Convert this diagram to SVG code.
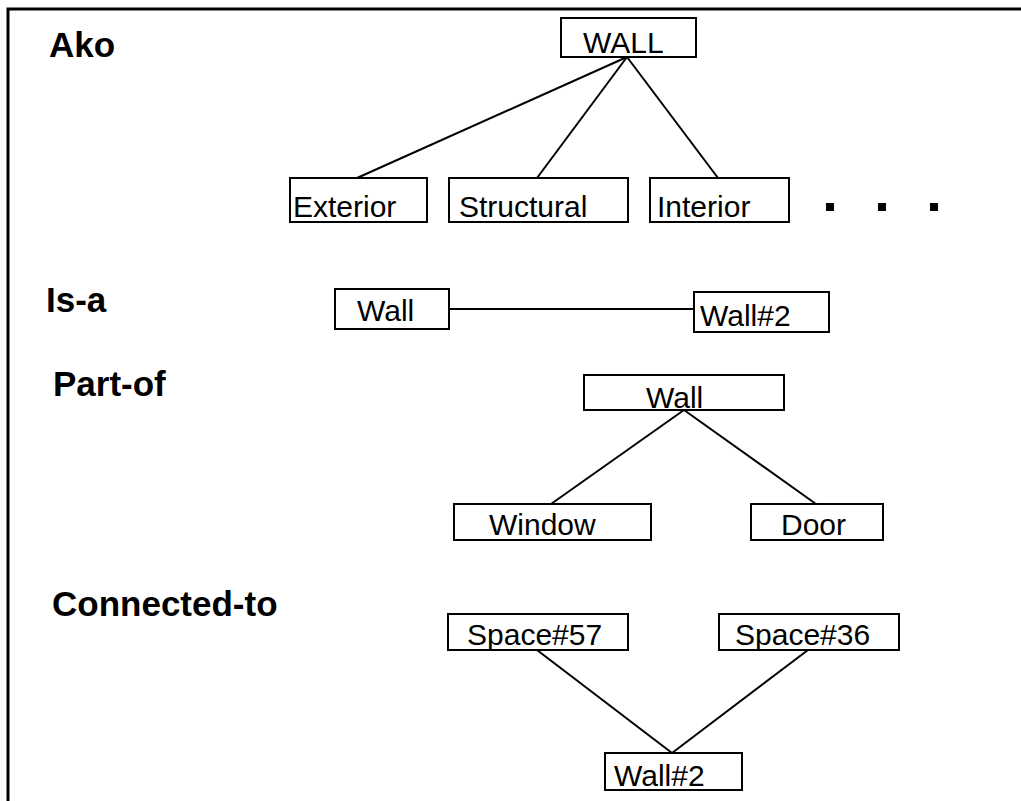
<svg xmlns="http://www.w3.org/2000/svg" width="1021" height="801" viewBox="0 0 1021 801">
<style>
.box{fill:#fff;stroke:#000;stroke-width:2}
.t{font-family:"Liberation Sans",Arial,sans-serif;font-size:30px;fill:#000}
.h{font-family:"Liberation Sans",Arial,sans-serif;font-size:35px;font-weight:bold;fill:#000}
.c{stroke:#000;stroke-width:2;fill:none}
</style>
<rect width="1021" height="801" fill="#fff"/>
<path d="M8,801 V9 H1021" fill="none" stroke="#000" stroke-width="3"/>
<text class="h" x="49" y="57">Ako</text>
<text class="h" x="46" y="312">Is-a</text>
<text class="h" x="53" y="396">Part-of</text>
<text class="h" x="52" y="616">Connected-to</text>
<g id="connectors">
<line class="c" x1="627" y1="57" x2="357" y2="178"/>
<line class="c" x1="627" y1="57" x2="537" y2="178"/>
<line class="c" x1="627" y1="57" x2="718" y2="178"/>
<line class="c" x1="449" y1="309" x2="694" y2="309"/>
<line class="c" x1="684" y1="410" x2="551" y2="504"/>
<line class="c" x1="684" y1="410" x2="816" y2="504"/>
<line class="c" x1="537" y1="650" x2="672" y2="753"/>
<line class="c" x1="808" y1="650" x2="672" y2="753"/>
</g>
<g id="wall-ako"><rect class="box" x="561" y="18" width="135" height="39"/><text class="t" x="583" y="53">WALL</text></g>
<g id="exterior"><rect class="box" x="290" y="178" width="137" height="44"/><text class="t" x="293" y="217">Exterior</text></g>
<g id="structural"><rect class="box" x="449" y="178" width="179" height="44"/><text class="t" x="459" y="217">Structural</text></g>
<g id="interior"><rect class="box" x="650" y="178" width="139" height="44"/><text class="t" x="657" y="217">Interior</text></g>
<g id="ellipsis"><rect x="826" y="203" width="8" height="8"/><rect x="878" y="203" width="8" height="8"/><rect x="930" y="203" width="8" height="8"/></g>
<g id="wall-isa"><rect class="box" x="335" y="289" width="114" height="40"/><text class="t" x="357" y="321">Wall</text></g>
<g id="wall2-isa"><rect class="box" x="694" y="292" width="135" height="40"/><text class="t" x="700" y="326">Wall#2</text></g>
<g id="wall-partof"><rect class="box" x="584" y="375" width="200" height="35"/><text class="t" x="646" y="408">Wall</text></g>
<g id="window"><rect class="box" x="454" y="504" width="197" height="36"/><text class="t" x="489" y="535">Window</text></g>
<g id="door"><rect class="box" x="751" y="504" width="132" height="36"/><text class="t" x="781" y="535">Door</text></g>
<g id="space57"><rect class="box" x="448" y="614" width="180" height="36"/><text class="t" x="467" y="645">Space#57</text></g>
<g id="space36"><rect class="box" x="719" y="614" width="180" height="36"/><text class="t" x="735" y="645">Space#36</text></g>
<g id="wall2-conn"><rect class="box" x="605" y="753" width="137" height="37"/><text class="t" x="614" y="786">Wall#2</text></g>
</svg>
